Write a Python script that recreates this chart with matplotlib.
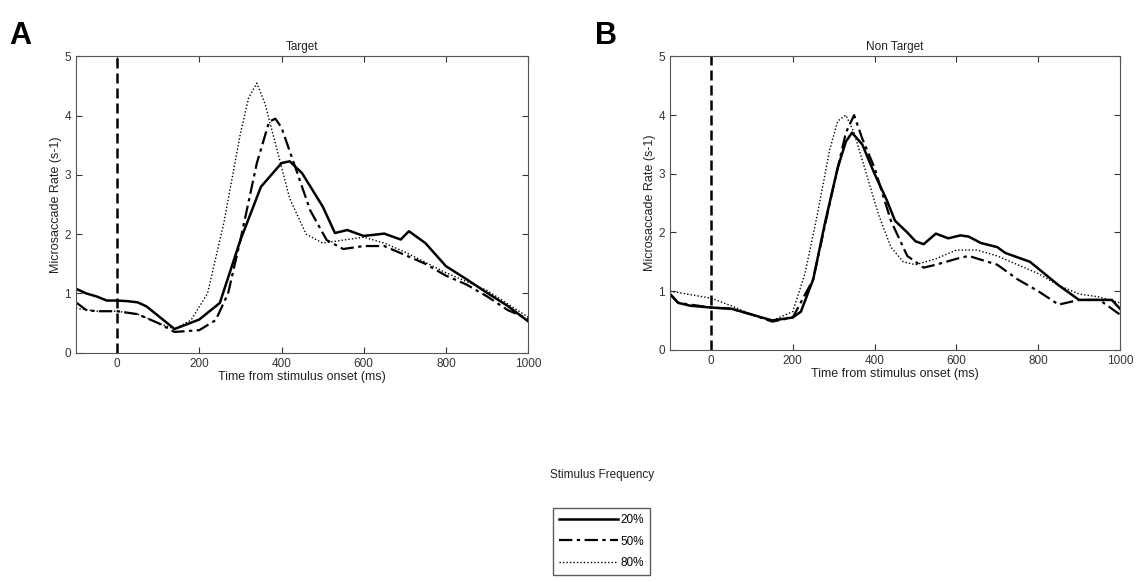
import matplotlib
matplotlib.use("Agg")
import matplotlib.pyplot as plt
from matplotlib.lines import Line2D

plt.rcParams['font.family'] = ['Liberation Sans', 'DejaVu Sans']

# Target panel (A)
t_a20 = [-100, -75, -50, -25, 0, 25, 50, 72, 104, 140, 170, 200, 250, 300, 350, 400, 420, 450, 500, 530, 560, 600, 650, 690, 710, 750, 800, 850, 900, 950, 1000]
a20 = [1.08, 1.0, 0.95, 0.88, 0.88, 0.87, 0.85, 0.78, 0.6, 0.4, 0.48, 0.56, 0.84, 1.9, 2.8, 3.2, 3.23, 3.03, 2.47, 2.02, 2.07, 1.97, 2.01, 1.91, 2.05, 1.85, 1.46, 1.24, 1.01, 0.79, 0.53]
t_a50 = [-100, -75, -50, 0, 50, 100, 140, 200, 240, 270, 300, 340, 370, 385, 400, 430, 470, 510, 550, 600, 650, 700, 750, 800, 850, 900, 950, 1000]
a50 = [0.85, 0.72, 0.7, 0.7, 0.65, 0.5, 0.35, 0.38, 0.55, 1.0, 1.9, 3.2, 3.9, 3.95, 3.8, 3.2, 2.4, 1.9, 1.75, 1.8, 1.8, 1.65, 1.5, 1.3, 1.15, 0.95, 0.72, 0.57]
t_a80 = [-100, -50, 0, 50, 100, 140, 180, 220, 260, 300, 320, 340, 360, 390, 420, 460, 500, 550, 600, 650, 700, 800, 900, 1000]
a80 = [0.75, 0.7, 0.7, 0.65, 0.5, 0.4, 0.55, 1.0, 2.2, 3.7, 4.3, 4.55, 4.2, 3.4, 2.6, 2.0, 1.85, 1.9, 1.95, 1.85, 1.7, 1.35, 1.05, 0.6]

# Non Target panel (B)
t_b20 = [-100, -80, -50, 0, 50, 100, 150, 200, 220, 250, 280, 310, 330, 345, 370, 400, 430, 450, 480, 500, 520, 550, 580, 610, 630, 660, 700, 720, 780, 850, 900, 950, 980, 1000]
b20 = [0.95, 0.8, 0.75, 0.72, 0.7, 0.6, 0.5, 0.55, 0.65, 1.2, 2.2, 3.1, 3.55, 3.7, 3.5, 3.0, 2.55, 2.2, 2.0, 1.85, 1.8, 1.98, 1.9, 1.95, 1.93, 1.82, 1.75, 1.65, 1.5, 1.1, 0.85, 0.85, 0.85, 0.7]
t_b50 = [-100, -80, 0, 50, 100, 150, 200, 250, 300, 330, 350, 370, 400, 440, 480, 520, 550, 600, 630, 700, 750, 800, 850, 900, 950, 1000]
b50 = [0.95, 0.8, 0.72, 0.7, 0.6, 0.48, 0.55, 1.2, 2.8, 3.7, 4.0, 3.6, 3.1, 2.2, 1.6, 1.4, 1.45, 1.55, 1.6, 1.45, 1.2, 1.0, 0.77, 0.85, 0.85, 0.6]
t_b80 = [-100, 0, 50, 100, 150, 200, 230, 260, 290, 310, 330, 350, 380, 410, 440, 470, 500, 550, 600, 650, 700, 750, 800, 850, 900, 950, 1000]
b80 = [1.0, 0.88, 0.75, 0.6, 0.5, 0.65, 1.3, 2.3, 3.4, 3.9, 4.0, 3.7, 3.0, 2.3, 1.75, 1.5, 1.45, 1.55, 1.7, 1.7, 1.6, 1.45, 1.3, 1.1, 0.95, 0.9, 0.8]

freq_labels = ["20%", "50%", "80%"]
panel_titles = ["Target", "Non Target"]
panel_letters = ["A", "B"]

styles = [dict(ls="-", lw=1.8), dict(ls=(0, (6, 2, 1.5, 2)), lw=1.6), dict(ls=(0, (1, 1.5)), lw=1.0)]

fig = plt.figure(figsize=(11.42, 5.82), dpi=100)
ax_a = fig.add_axes([0.0665, 0.394, 0.396, 0.509])
ax_b = fig.add_axes([0.5867, 0.399, 0.394, 0.504])

panels = [
    (ax_a, [(t_a20, a20), (t_a50, a50), (t_a80, a80)]),
    (ax_b, [(t_b20, b20), (t_b50, b50), (t_b80, b80)]),
]

for i, (ax, series) in enumerate(panels):
    for (t, y), st in zip(series, styles):
        ax.plot(t, y, color="black", **st)
    ax.axvline(0, color="black", ls=(0, (4, 2)), lw=1.8)
    ax.set_xlim(-100, 1000)
    ax.set_ylim(0, 5)
    ax.set_xticks([0, 200, 400, 600, 800, 1000])
    ax.set_yticks([0, 1, 2, 3, 4, 5])
    ax.tick_params(direction="in", top=True, right=True, labelsize=8.5, length=4, colors="#333333")
    for s in ax.spines.values():
        s.set_color("#555555")
    ax.set_xlabel("Time from stimulus onset (ms)", fontsize=9, labelpad=1, color="#222222")
    ax.set_ylabel("Microsaccade Rate (s-1)", fontsize=9, labelpad=2, color="#222222")
    ax.set_title(panel_titles[i], fontsize=8.5, pad=5, color="#222222")

fig.text(0.008, 0.925, panel_letters[0], fontsize=22, fontweight="bold")
fig.text(0.521, 0.925, panel_letters[1], fontsize=22, fontweight="bold")

handles = [Line2D([], [], color="black", **st) for st in styles]
fig.text(0.527, 0.178, "Stimulus Frequency", fontsize=8.5, ha="center", color="#222222")
leg = fig.legend(handles, freq_labels, loc="upper center", bbox_to_anchor=(0.527, 0.137),
                 fontsize=8.5, frameon=True, fancybox=False, handlelength=5.0,
                 handletextpad=0.2, borderpad=0.5, labelspacing=0.8)
leg.get_frame().set_edgecolor("#333333")
leg.get_frame().set_linewidth(1.0)

fig.savefig("out.png", dpi=100)
